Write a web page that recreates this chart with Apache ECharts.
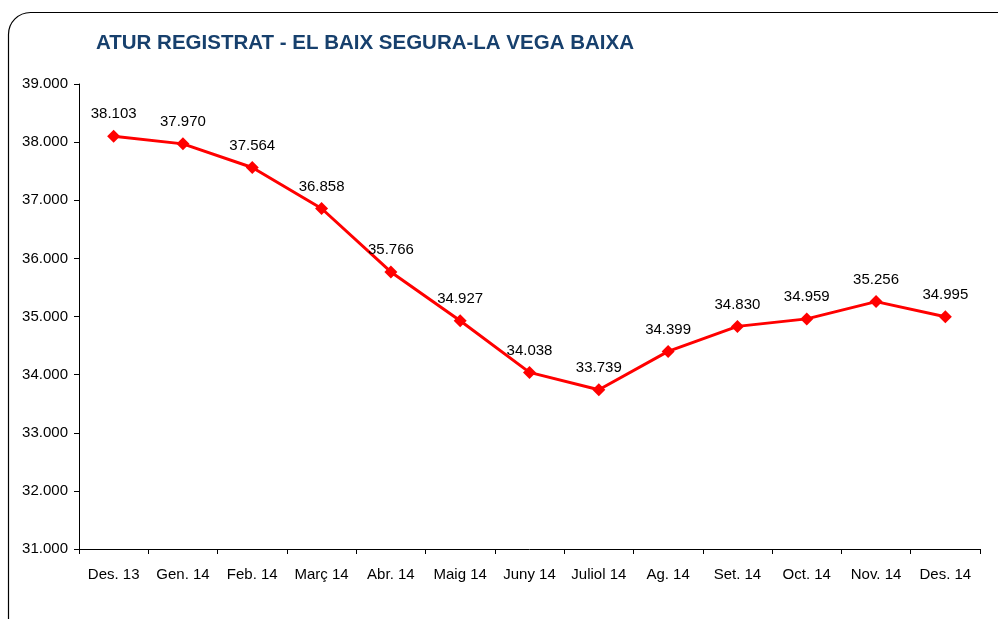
<!DOCTYPE html>
<html>
<head>
<meta charset="utf-8">
<script src="https://cdn.jsdelivr.net/npm/echarts@6/dist/echarts.min.js"></script>
<style>
html,body{margin:0;padding:0;background:#fff;}
#chart{width:998px;height:619px;}
</style>
</head>
<body>
<div id="chart"></div>
<script>
const categories = ['Des. 13','Gen. 14','Feb. 14','Març 14','Abr. 14','Maig 14','Juny 14','Juliol 14','Ag. 14','Set. 14','Oct. 14','Nov. 14','Des. 14'];
const atur = [38103, 37970, 37564, 36858, 35766, 34927, 34038, 33739, 34399, 34830, 34959, 35256, 34995];
const yTicks = { min: 31000, max: 39000, step: 1000 };

function fmt(v) {
  return String(v).replace(/\B(?=(\d{3})+(?!\d))/g, '.');
}

const chart = echarts.init(document.getElementById('chart'));
chart.setOption({
  animation: false,
  backgroundColor: '#ffffff',
  textStyle: { fontFamily: 'Liberation Sans, Arial, sans-serif' },
  graphic: [{
    type: 'rect',
    shape: { x: 8.5, y: 12.5, width: 1100, height: 700, r: 22 },
    style: { fill: 'none', stroke: '#000', lineWidth: 1.2 },
    z: -1
  }],
  title: {
    text: 'ATUR REGISTRAT - EL BAIX SEGURA-LA VEGA BAIXA',
    left: 91, top: 28,
    textStyle: { color: '#17406d', fontSize: 20.5, fontWeight: 'bold', fontFamily: 'Liberation Sans, Arial, sans-serif' }
  },
  grid: { left: 79, right: 18, top: 84, bottom: 70, containLabel: false },
  xAxis: {
    type: 'category',
    data: categories,
    boundaryGap: true,
    axisLine: { lineStyle: { color: '#000', width: 1 } },
    axisTick: { show: true, alignWithLabel: false, length: 5, lineStyle: { color: '#000' } },
    axisLabel: { color: '#000', fontSize: 15, margin: 18, interval: 0 },
    splitLine: { show: false }
  },
  yAxis: {
    type: 'value',
    min: yTicks.min, max: yTicks.max, interval: yTicks.step,
    axisLine: { show: true, lineStyle: { color: '#000', width: 1 } },
    axisTick: { show: true, length: 5, lineStyle: { color: '#000' } },
    axisLabel: { color: '#000', fontSize: 15, margin: 11, formatter: fmt },
    splitLine: { show: false }
  },
  series: [{
    type: 'line',
    data: atur,
    lineStyle: { color: '#ff0000', width: 3 },
    itemStyle: { color: '#ff0000' },
    symbol: 'diamond',
    symbolSize: 13,
    label: {
      show: true, position: 'top', distance: 8,
      color: '#000', fontSize: 15,
      formatter: p => fmt(p.value)
    }
  }]
});
</script>
</body>
</html>
